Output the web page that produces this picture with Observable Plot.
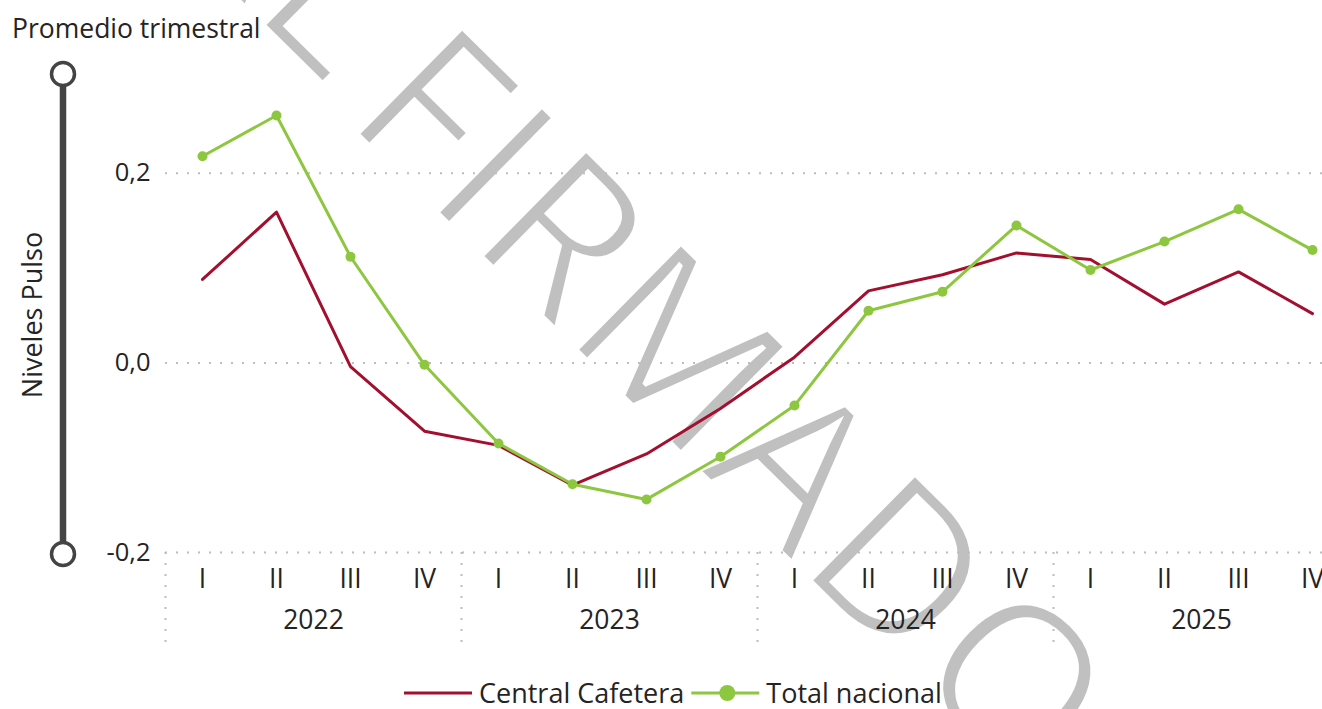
<!DOCTYPE html>
<html>
<head>
<meta charset="utf-8">
<script src="https://cdn.jsdelivr.net/npm/d3@7"></script>
<script src="https://cdn.jsdelivr.net/npm/@observablehq/plot@0.6"></script>
<style>
  html, body { margin: 0; padding: 0; background: #fff; overflow: hidden; }
  #wrap { position: relative; width: 1322px; height: 709px; overflow: hidden; font-family: "Open Sans", "Noto Sans", sans-serif; }
  #wrap > svg, #wrap > div { position: absolute; left: 0; top: 0; }
  #chart svg { max-width: none !important; }
</style>
</head>
<body>
<div id="wrap">
  <svg id="watermark" width="1322" height="709"></svg>
  <div id="chart"></div>
  <svg id="overlay" width="1322" height="709"></svg>
</div>
<script>
// ---- data ----
const years = [2022, 2023, 2024, 2025];
const quarters = ["I", "II", "III", "IV"];
const centralCafetera = [0.088, 0.159, -0.004, -0.072, -0.087, -0.129, -0.096, -0.048, 0.006, 0.076, 0.093, 0.116, 0.109, 0.062, 0.096, 0.052];
const totalNacional = [0.218, 0.261, 0.112, -0.002, -0.085, -0.128, -0.144, -0.099, -0.045, 0.055, 0.075, 0.145, 0.098, 0.128, 0.162, 0.119];
const yTicks = [-0.2, 0, 0.2];
const seriesNames = ["Central Cafetera", "Total nacional"];
const seriesColors = ["#a3102f", "#8dc63f"];
const titleText = "Promedio trimestral";
const yLabel = "Niveles Pulso";
const watermarkWords = ["ORIGINAL", "FIRMADO"];

// ---- build rows ----
const nQ = years.length * quarters.length;
const idx = d3.range(nQ);
const rowsC = idx.map(i => ({i, v: centralCafetera[i]}));
const rowsT = idx.map(i => ({i, v: totalNacional[i]}));
const yearRows = years.map((y, k) => ({x: k * quarters.length + (quarters.length - 1) / 2, y: -0.2, label: String(y)}));
const separators = d3.range(years.length + 1).map(k => k * quarters.length - 0.5);

const fmt = d => d.toFixed(1).replace(".", ",");
const textColor = "#252423";
const gridColor = "#bdbdbd";
const fontFam = "'Open Sans', 'Noto Sans', sans-serif";

const chart = Plot.plot({
  width: 1360,
  height: 655,
  marginLeft: 165,
  marginRight: 11,
  marginTop: 78,
  marginBottom: 103,
  style: {fontFamily: fontFam, fontSize: "26px", color: textColor, background: "transparent", overflow: "visible", maxWidth: "none"},
  x: {type: "linear", domain: [-0.5, nQ - 0.5]},
  y: {domain: [-0.2, 0.3]},
  marks: [
    Plot.ruleY(yTicks, {stroke: gridColor, strokeWidth: 2, strokeDasharray: "2,9"}),
    Plot.ruleX(separators, {y1: -0.2, y2: -0.2, insetBottom: -93, stroke: gridColor, strokeWidth: 2, strokeDasharray: "2,9"}),
    Plot.axisY({ticks: yTicks, tickSize: 0, tickPadding: 15, tickFormat: fmt, label: null, fill: textColor, fontSize: 25.5}),
    Plot.axisX({ticks: idx, tickSize: 0, tickPadding: 17, tickFormat: i => quarters[i % quarters.length], label: null, fill: textColor, fontSize: 26.5}),
    Plot.text(yearRows, {x: "x", y: "y", text: "label", dy: 68, fill: textColor, fontSize: 26.5}),
    Plot.line(rowsC, {x: "i", y: "v", stroke: seriesColors[0], strokeWidth: 3}),
    Plot.line(rowsT, {x: "i", y: "v", stroke: seriesColors[1], strokeWidth: 3}),
    Plot.dot(rowsT, {x: "i", y: "v", r: 5, fill: seriesColors[1], stroke: "none"})
  ]
});
document.getElementById("chart").appendChild(chart);

const ys = chart.scale("y");
const NS = "http://www.w3.org/2000/svg";
function el(parent, tag, attrs, text) {
  const e = document.createElementNS(NS, tag);
  for (const k in attrs) e.setAttribute(k, attrs[k]);
  if (text != null) e.textContent = text;
  parent.appendChild(e);
  return e;
}

// ---- watermark (underneath the chart) ----
const wm = document.getElementById("watermark");
const fsW = 210, angle = 44.6;
const ux = Math.cos(angle * Math.PI / 180), uy = Math.sin(angle * Math.PI / 180);
const wmStyle = {"font-family": fontFam, "font-weight": 400, "font-size": fsW, fill: "#c0c0c0", stroke: "#fff", "stroke-width": 5, "stroke-linejoin": "miter"};
// measure advances
const probe = el(wm, "text", Object.assign({x: 0, y: -500}, wmStyle), watermarkWords[1]);
const wFIRMA = probe.getSubStringLength(0, 5);
probe.textContent = watermarkWords[0];
const wORIGINA = probe.getSubStringLength(0, watermarkWords[0].length - 1);
probe.remove();
const lsb = 0.098 * fsW;
const Fcorner = [357, 134], Dcorner = [810, 580], Lcorner = [263, 25];
const distFD = Math.hypot(Dcorner[0] - Fcorner[0], Dcorner[1] - Fcorner[1]);
const ls = (distFD - wFIRMA) / 5;
const fo = [Fcorner[0] - lsb * ux, Fcorner[1] - lsb * uy];
el(wm, "text", Object.assign({transform: `translate(${fo[0]},${fo[1]}) rotate(${angle})`, "letter-spacing": ls}, wmStyle), watermarkWords[1]);
const back = wORIGINA + 7 * ls + lsb;
const oo = [Lcorner[0] - back * ux, Lcorner[1] - back * uy];
el(wm, "text", Object.assign({transform: `translate(${oo[0]},${oo[1]}) rotate(${angle})`, "letter-spacing": ls}, wmStyle), watermarkWords[0]);

// ---- overlay: title, y label, slider, legend ----
const ov = document.getElementById("overlay");
el(ov, "text", {x: 12, y: 38, "font-family": fontFam, "font-size": 26.5, fill: textColor}, titleText);
el(ov, "text", {transform: "translate(42,315) rotate(-90)", "text-anchor": "middle", "font-family": fontFam, "font-size": 27, fill: textColor}, yLabel);
const yTop = ys.apply(ys.domain[1]), yBot = ys.apply(ys.domain[0]);
el(ov, "line", {x1: 63, x2: 63, y1: yTop - 4, y2: yBot, stroke: "#444", "stroke-width": 6.5});
el(ov, "circle", {cx: 63, cy: yTop - 4, r: 11.5, fill: "#fff", stroke: "#444", "stroke-width": 3.5});
el(ov, "circle", {cx: 63, cy: yBot + 2, r: 11.5, fill: "#fff", stroke: "#444", "stroke-width": 3.5});

// legend
const lg = el(ov, "g", {});
let lx = 404;
const ly = 693;
seriesNames.forEach((name, k) => {
  el(lg, "line", {x1: lx, x2: lx + 68, y1: ly, y2: ly, stroke: seriesColors[k], "stroke-width": 3});
  if (k === 1) el(lg, "circle", {cx: lx + 36, cy: ly, r: 8, fill: seriesColors[k]});
  const t = el(lg, "text", {x: lx + 75, y: ly + 10, "font-family": fontFam, "font-size": 27, fill: textColor}, name);
  lx = lx + 75 + t.getComputedTextLength() + 7;
});
</script>
</body>
</html>
